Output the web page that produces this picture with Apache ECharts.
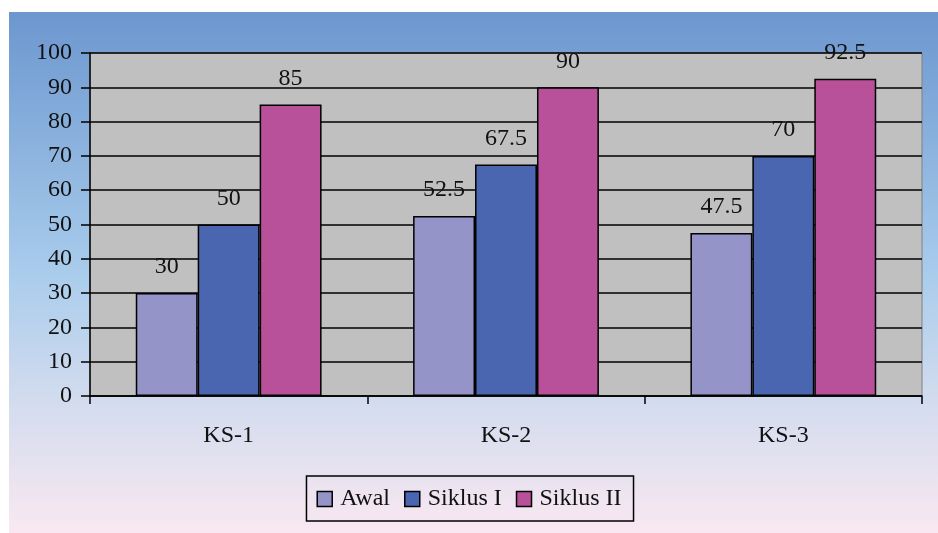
<!DOCTYPE html>
<html><head><meta charset="utf-8">
<script src="https://cdn.jsdelivr.net/npm/echarts@6/dist/echarts.min.js"></script>
<style>html,body{margin:0;padding:0;background:#fff}#c{width:938px;height:533px}</style>
</head><body><div id="c"></div>
<script>
const categories = ['KS-1', 'KS-2', 'KS-3'];
const awal = [30, 52.5, 47.5];
const siklus1 = [50, 67.5, 70];
const siklus2 = [85, 90, 92.5];
const seriesNames = ['Awal', 'Siklus I', 'Siklus II'];
const colors = ['#9494C8', '#4A66B0', '#B8509A'];
const FONT = '"Liberation Serif", "Times New Roman", serif';

const chart = echarts.init(document.getElementById('c'));
const mk = (name, data, color) => ({
  name, type: 'bar', data, barGap: '0%', barCategoryGap: '33%',
  itemStyle: { color, borderColor: '#000', borderWidth: 1.5 },
  label: { show: true, position: 'top', distance: 14, color: '#111', fontFamily: FONT, fontSize: 24 }
});
chart.setOption({
  animation: false,
  graphic: [{
    type: 'rect', left: 9, top: 12, z: -10,
    shape: { width: 929, height: 521 },
    style: { fill: new echarts.graphic.LinearGradient(0, 0, 0, 1, [
      { offset: 0, color: '#6C97CF' },
      { offset: 0.5, color: '#A9CCEC' },
      { offset: 0.75, color: '#D3DCEE' },
      { offset: 1, color: '#F9E8F1' }
    ]) }
  }],
  grid: { left: 90, top: 53, width: 832, height: 343, show: true, backgroundColor: '#C0C0C0', borderColor: '#808080', borderWidth: 1 },
  legend: {
    data: seriesNames, bottom: 12, left: 'center',
    borderColor: '#000', borderWidth: 1.5, padding: [11, 12, 10, 10],
    itemWidth: 15, itemHeight: 15, itemGap: 14, icon: 'rect',
    itemStyle: { borderColor: '#000', borderWidth: 1.5 },
    textStyle: { fontFamily: FONT, fontSize: 24, color: '#111', padding: [0, 0, 0, 3] }
  },
  xAxis: {
    type: 'category', data: categories,
    axisLine: { lineStyle: { color: '#000', width: 1.5 } },
    axisTick: { show: true, length: 8, lineStyle: { color: '#000', width: 1.5 } },
    axisLabel: { fontFamily: FONT, fontSize: 24, color: '#111', margin: 28 }
  },
  yAxis: {
    type: 'value', min: 0, max: 100, interval: 10,
    axisLine: { show: true, lineStyle: { color: '#000', width: 1.5 } },
    axisTick: { show: true, length: 9, lineStyle: { color: '#000', width: 1.5 } },
    splitLine: { lineStyle: { color: '#000', width: 1.5 } },
    axisLabel: { fontFamily: FONT, fontSize: 24, color: '#111', margin: 18 }
  },
  series: [mk(seriesNames[0], awal, colors[0]), mk(seriesNames[1], siklus1, colors[1]), mk(seriesNames[2], siklus2, colors[2])]
});
</script></body></html>
